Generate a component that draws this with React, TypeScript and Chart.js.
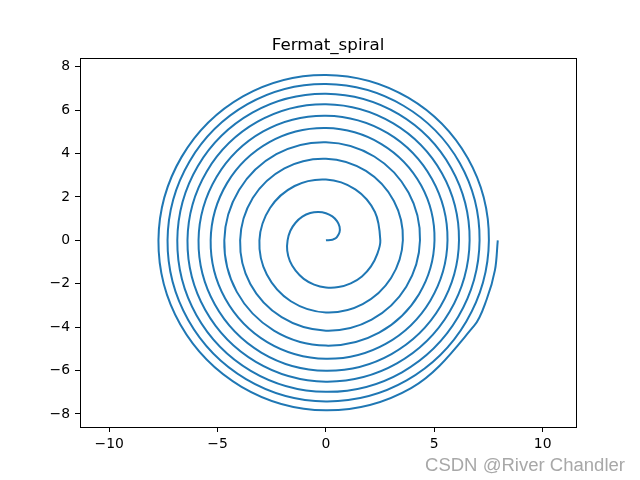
import React, { useEffect, useRef } from "react";
import { Chart, registerables } from "chart.js";

Chart.register(...registerables);

const chartTitle = "Fermat_spiral";
const watermark = "CSDN @River Chandler";

// inner part of the spiral: explicit angles (degrees) and radii
const innerAngleDeg = [
  0, 5, 10, 15, 30, 45, 60, 75, 90, 105, 120, 135, 150, 165, 180,
  195, 210, 225, 240, 255, 270, 285, 300, 315, 330, 345, 360,
];
const innerRadius = [
  0, 0.3, 0.42, 0.51, 0.72, 0.89, 1.02, 1.14, 1.25, 1.35, 1.45, 1.54, 1.62, 1.7, 1.77,
  1.85, 1.92, 1.98, 2.05, 2.11, 2.17, 2.23, 2.29, 2.35, 2.4, 2.45, 2.51,
];

// middle/outer part: radii sampled every 30 degrees from 390 to 3570 degrees
const outerStartDeg = 390;
const outerStepDeg = 30;
const outerRadius = [
  2.61, 2.71, 2.8, 2.89, 2.98, 3.07, 3.15, 3.24, 3.32, 3.39,
  3.47, 3.55, 3.62, 3.69, 3.76, 3.83, 3.9, 3.96, 4.03, 4.09,
  4.16, 4.22, 4.28, 4.34, 4.4, 4.46, 4.52, 4.58, 4.63, 4.69,
  4.75, 4.8, 4.85, 4.91, 4.96, 5.01, 5.07, 5.12, 5.17, 5.22,
  5.27, 5.32, 5.37, 5.42, 5.46, 5.51, 5.56, 5.61, 5.65, 5.7,
  5.74, 5.79, 5.83, 5.88, 5.92, 5.97, 6.01, 6.05, 6.1, 6.14,
  6.18, 6.22, 6.27, 6.31, 6.35, 6.39, 6.43, 6.47, 6.51, 6.55,
  6.59, 6.63, 6.67, 6.71, 6.75, 6.79, 6.83, 6.86, 6.9, 6.94,
  6.98, 7.02, 7.05, 7.09, 7.13, 7.16, 7.2, 7.24, 7.27, 7.31,
  7.34, 7.38, 7.42, 7.45, 7.48, 7.52, 7.56, 7.59, 7.62, 7.66,
  7.69, 7.73, 7.76, 7.79, 7.83, 7.86, 7.89,
];

// the end of the curve, sampled more finely
const tailAngleDeg = [3580, 3590, 3600];
const tailRadius = [7.9, 7.92, 7.93];

const xTicks = [-10, -5, 0, 5, 10];
const yTicks = [-8, -6, -4, -2, 0, 2, 4, 6, 8];
const xLimits = [-11.35, 11.54];
const yLimits = [-8.6, 8.4];

function buildPoints() {
  const pts: { x: number; y: number }[] = [];
  const push = (deg: number, r: number) => {
    const t = (deg * Math.PI) / 180;
    pts.push({ x: r * Math.cos(t), y: r * Math.sin(t) });
  };
  innerAngleDeg.forEach((d, i) => push(d, innerRadius[i]));
  outerRadius.forEach((r, i) => push(outerStartDeg + outerStepDeg * i, r));
  tailAngleDeg.forEach((d, i) => push(d, tailRadius[i]));
  return pts;
}

const fmt = (v: number) => (v < 0 ? "\u2212" + Math.abs(v) : String(v));

export default function App() {
  const ref = useRef<HTMLCanvasElement | null>(null);
  useEffect(() => {
    if (!ref.current) return;
    const framePlugin = {
      id: "frame",
      afterDraw(chart: any) {
        const { ctx, chartArea: a } = chart;
        ctx.save();
        ctx.strokeStyle = "#000";
        ctx.lineWidth = 1;
        ctx.strokeRect(Math.round(a.left) + 0.5, Math.round(a.top) + 0.5, Math.round(a.right - a.left), Math.round(a.bottom - a.top));
        ctx.fillStyle = "#000";
        ctx.font = '16.7px "DejaVu Sans"';
        ctx.textAlign = "center";
        ctx.textBaseline = "alphabetic";
        ctx.fillText(chartTitle, (a.left + a.right) / 2, 50);
        ctx.font = '18px "Liberation Sans"';
        const w = ctx.measureText(watermark).width;
        const sx = 200 / w;
        ctx.translate(625, 471);
        ctx.scale(sx, 1);
        ctx.textAlign = "right";
        ctx.fillStyle = "#a8a8a8";
        ctx.fillText(watermark, 0, 0);
        ctx.restore();
      },
    };
    const chart = new Chart(ref.current, {
      type: "scatter",
      data: {
        datasets: [
          {
            data: buildPoints(),
            showLine: true,
            borderColor: "#1f77b4",
            borderWidth: 2,
            pointRadius: 0,
            pointHoverRadius: 0,
            tension: 0.35,
            fill: false,
          },
        ],
      },
      options: {
        animation: false,
        responsive: false,
        events: [],
        layout: { padding: { left: 0, right: 64, top: 58, bottom: 0 } },
        plugins: { legend: { display: false }, tooltip: { enabled: false }, title: { display: false } },
        scales: {
          x: {
            type: "linear",
            min: xLimits[0],
            max: xLimits[1],
            afterFit: (s: any) => {
              s.height = 53;
            },
            afterBuildTicks: (s: any) => {
              s.ticks = xTicks.map((v) => ({ value: v }));
            },
            ticks: {
              includeBounds: false,
              autoSkip: false,
              maxRotation: 0,
              padding: 4,
              color: "#000",
              font: { family: "DejaVu Sans", size: 13.9 },
              callback: (v: any) => fmt(Number(v)),
            },
            grid: { drawOnChartArea: false, drawTicks: true, tickLength: 5, color: "#000", lineWidth: 1 },
            border: { display: false },
          },
          y: {
            type: "linear",
            min: yLimits[0],
            max: yLimits[1],
            afterFit: (s: any) => {
              s.width = 80;
            },
            afterBuildTicks: (s: any) => {
              s.ticks = yTicks.map((v) => ({ value: v }));
            },
            ticks: {
              includeBounds: false,
              autoSkip: false,
              padding: 5,
              color: "#000",
              font: { family: "DejaVu Sans", size: 13.9 },
              callback: (v: any) => fmt(Number(v)),
            },
            grid: { drawOnChartArea: false, drawTicks: true, tickLength: 5, color: "#000", lineWidth: 1 },
            border: { display: false },
          },
        },
      },
      plugins: [framePlugin],
    });
    return () => chart.destroy();
  }, []);
  return (
    <div style={{ position: "absolute", left: 0, top: 0, width: 640, height: 480, background: "#fff" }}>
      <canvas ref={ref} width={640} height={480} style={{ width: 640, height: 480, display: "block" }} />
    </div>
  );
}
